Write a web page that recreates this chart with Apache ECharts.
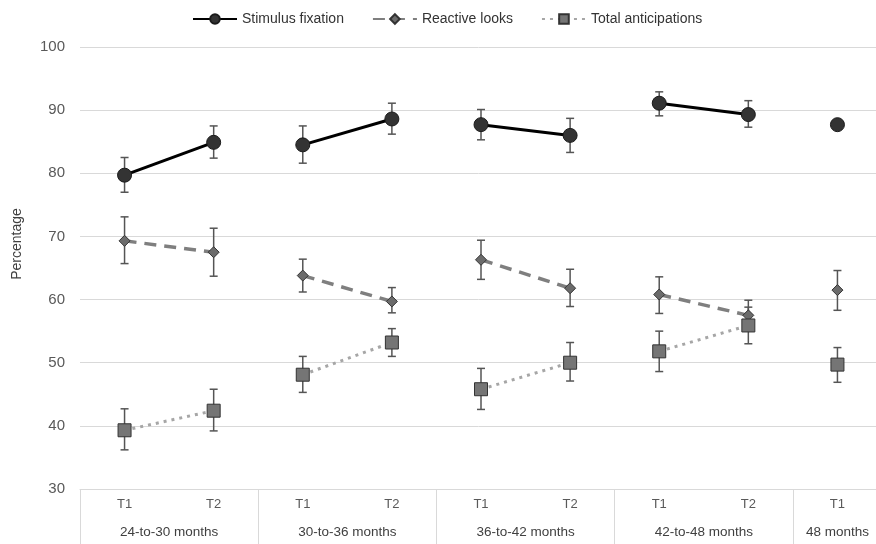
<!DOCTYPE html>
<html>
<head>
<meta charset="utf-8">
<script src="https://cdn.jsdelivr.net/npm/echarts@6/dist/echarts.min.js"></script>
<style>html,body{margin:0;padding:0;background:#fff}#c{width:876px;height:544px}</style>
</head>
<body>
<div id="c"></div>
<script>
var timeLabels = ['T1','T2','T1','T2','T1','T2','T1','T2','T1'];
var groupOf = [0,0,1,1,2,2,3,3,4];
var groupLabels = ['24-to-30 months','30-to-36 months','36-to-42 months','42-to-48 months','48 months'];
var groupLabelPos = [0.5, 2.5, 4.5, 6.5, 8];
var yTicks = [30,40,50,60,70,80,90,100];

var stimulus     = [79.7, 84.9, 84.5, 88.6, 87.7, 86.0, 91.1, 89.3, 87.7];
var stimulusLow  = [77.0, 82.4, 81.6, 86.2, 85.3, 83.3, 89.1, 87.3, null];
var stimulusHigh = [82.5, 87.5, 87.5, 91.1, 90.1, 88.7, 92.9, 91.5, null];

var reactive     = [69.3, 67.5, 63.8, 59.7, 66.3, 61.8, 60.8, 57.5, 61.5];
var reactiveLow  = [65.7, 63.7, 61.2, 57.9, 63.2, 58.9, 57.8, 55.1, 58.3];
var reactiveHigh = [73.1, 71.3, 66.4, 61.9, 69.4, 64.8, 63.6, 59.9, 64.6];

var totalAnt     = [39.3, 42.4, 48.1, 53.2, 45.8, 50.0, 51.8, 55.9, 49.7];
var totalLow     = [36.2, 39.2, 45.3, 51.0, 42.6, 47.1, 48.6, 53.0, 46.9];
var totalHigh    = [42.7, 45.8, 51.0, 55.4, 49.1, 53.2, 55.0, 58.8, 52.4];

var FONT = 'Liberation Sans, Arial, sans-serif';

var defs = [
  {name:'Stimulus fixation', vals:stimulus, lo:stimulusLow, hi:stimulusHigh,
   symbol:'circle', size:14, color:'#333333', border:'#1a1a1a',
   line:{color:'#000000', width:3, type:'solid'}},
  {name:'Reactive looks', vals:reactive, lo:reactiveLow, hi:reactiveHigh,
   symbol:'diamond', size:11, color:'#6b6b6b', border:'#333333',
   line:{color:'#7f7f7f', width:3.5, type:[12,8]}},
  {name:'Total anticipations', vals:totalAnt, lo:totalLow, hi:totalHigh,
   symbol:'rect', size:13, color:'#757575', border:'#333333',
   line:{color:'#a6a6a6', width:3, type:[3,5]}}
];

var series = [];
defs.forEach(function(d){
  var eb = [];
  d.vals.forEach(function(v,i){ if (d.lo[i]!=null) eb.push([i, d.lo[i], d.hi[i]]); });
  series.push({
    type:'custom', z:1, silent:true, data:eb,
    encode:{x:0, y:[1,2]},
    renderItem:function(params, api){
      var x = api.value(0);
      var p1 = api.coord([x, api.value(1)]);
      var p2 = api.coord([x, api.value(2)]);
      var w = 4;
      var st = {stroke:'#555555', lineWidth:1.5};
      return {type:'group', children:[
        {type:'line', shape:{x1:p1[0],y1:p1[1],x2:p2[0],y2:p2[1]}, style:st},
        {type:'line', shape:{x1:p1[0]-w,y1:p1[1],x2:p1[0]+w,y2:p1[1]}, style:st},
        {type:'line', shape:{x1:p2[0]-w,y1:p2[1],x2:p2[0]+w,y2:p2[1]}, style:st}
      ]};
    }
  });
  for (var g=0; g<groupLabels.length; g++){
    series.push({
      name:d.name, type:'line', z:3,
      data:d.vals.map(function(v,i){ return groupOf[i]===g ? v : '-'; }),
      symbol:d.symbol, symbolSize:d.size, showSymbol:true,
      itemStyle:{color:d.color, borderColor:d.border, borderWidth:1},
      lineStyle:{color:d.line.color, width:d.line.width, type:d.line.type},
      connectNulls:false, animation:false
    });
  }
});

var chart = echarts.init(document.getElementById('c'));
chart.setOption({
  animation:false,
  legend:{
    top:7, left:187, itemWidth:44, itemHeight:12, itemGap:28,
    textStyle:{fontFamily:FONT, fontSize:14, color:'#333'},
    data:defs.map(function(d){return d.name;})
  },
  grid:{left:80, width:802, top:47, bottom:55, containLabel:false, outerBoundsMode:'none'},
  xAxis:[{
    type:'category', data:timeLabels, boundaryGap:true,
    axisLine:{show:true, lineStyle:{color:'#d9d9d9', width:1}},
    axisTick:{show:true, length:55, interval:function(i){return i%2===0;}, lineStyle:{color:'#d9d9d9'}},
    axisLabel:{fontFamily:FONT, fontSize:13, color:'#595959', margin:9, interval:0}
  },{
    type:'value', position:'bottom', min:-0.5, max:8.5, interval:0.5,
    axisLine:{show:false}, axisTick:{show:false}, splitLine:{show:false},
    axisLabel:{fontFamily:FONT, fontSize:13.5, color:'#404040', margin:36,
      showMinLabel:true, showMaxLabel:true,
      formatter:function(v){
        for (var k=0;k<groupLabelPos.length;k++){ if (Math.abs(v-groupLabelPos[k])<1e-6) return groupLabels[k]; }
        return '';
      }}
  }],
  yAxis:{
    type:'value', min:yTicks[0], max:yTicks[yTicks.length-1], interval:10,
    name:'Percentage', nameLocation:'middle', nameGap:56, nameRotate:90,
    nameTextStyle:{fontFamily:FONT, fontSize:14, color:'#404040', padding:[0,0,0,48]},
    axisLine:{show:false}, axisTick:{show:false},
    splitLine:{lineStyle:{color:'#d9d9d9', width:1}},
    axisLabel:{fontFamily:FONT, fontSize:15, color:'#595959', margin:15}
  },
  series:series
});
</script>
</body>
</html>
